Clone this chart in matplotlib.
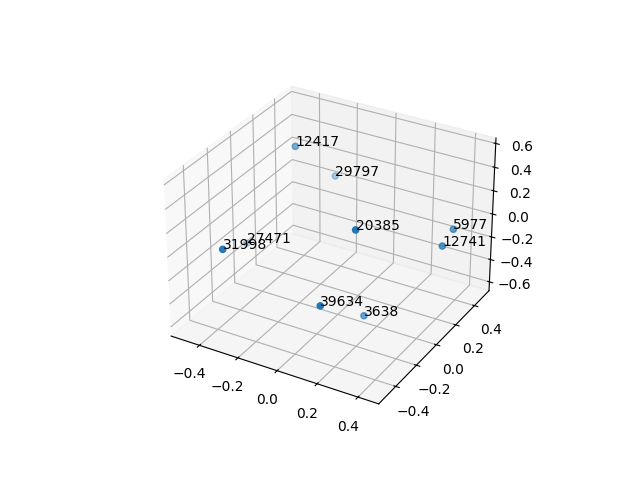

import matplotlib
matplotlib.use('Agg')
import matplotlib.pyplot as plt

labels = [27471, 12417, 29797, 20385, 5977, 12741, 31998, 39634, 3638]
xs = [-0.471, -0.269, -0.177, 0.218, 0.473, 0.467, -0.268, 0.169, 0.211]
ys = [-0.013, 0.096, 0.303, -0.245, 0.198, 0.101, -0.549, -0.473, -0.147]
zs = [-0.276, 0.569, 0.209, 0.355, 0.137, 0.069, 0.199, -0.112, -0.453]

fig = plt.figure()
ax = fig.add_subplot(projection='3d')
ax.set_xlim(-0.55, 0.50)
ax.set_ylim(-0.56, 0.56)
ax.set_zlim(-0.68, 0.645)
ax.scatter(xs, ys, zs)
for x, y, z, label in zip(xs, ys, zs, labels):
    ax.text(x, y, z, str(label))
fig.savefig('out.png')
